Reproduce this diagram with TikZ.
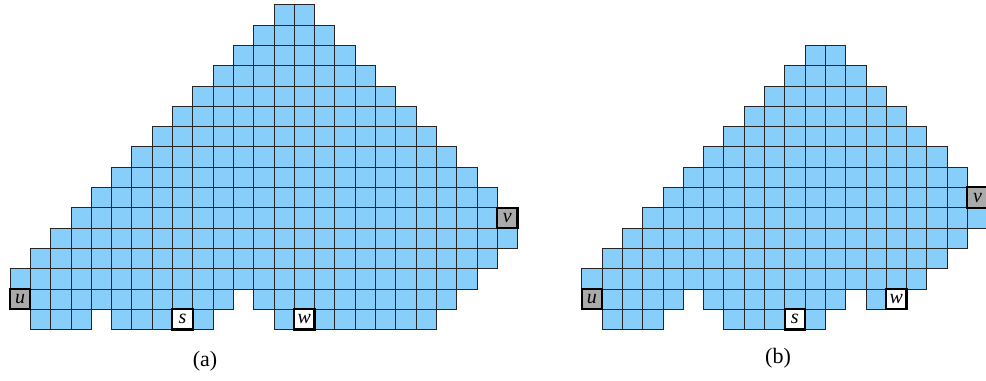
\documentclass[tikz,border=0pt]{standalone}
\usepackage{fontspec}
\setmainfont{Liberation Serif}
\definecolor{cellblue}{RGB}{135,206,250}
\definecolor{cellgray}{RGB}{170,170,170}
\begin{document}
\begin{tikzpicture}[x=0.75pt,y=-0.75pt,
  cellst/.style={fill=cellblue,draw=black!85,line width=0.55pt},
  markst/.style={draw=black,line width=1.6pt},
  lab/.style={font=\fontsize{15}{15}\selectfont\itshape,inner sep=0pt},
  captext/.style={font=\fontsize{16.5}{16.5}\selectfont,inner sep=0pt}]
\useasboundingbox (0,0) rectangle (986,380);
\def\S{20.3}
\def\Y{4.7}
\newcommand\cellrun[4]{%
  \foreach \c in {#3,...,#4} {\filldraw[cellst] ({#1+\c*\S},{\Y+#2*\S}) rectangle ++(\S,\S);}}
\newcommand\markcell[4]{% x0, col, row, fill
  \filldraw[markst,fill=#4] ({#1+#2*\S},{\Y+#3*\S}) rectangle ++(\S,\S);}
% ---------------- (a) ----------------
\def\XA{10}
\foreach \r in {0,...,10} {\pgfmathtruncatemacro\lo{13-\r}\pgfmathtruncatemacro\hi{14+\r}\cellrun{\XA}{\r}{\lo}{\hi}}
\cellrun{\XA}{11}{2}{24}
\cellrun{\XA}{12}{1}{23}
\cellrun{\XA}{13}{0}{22}
\cellrun{\XA}{14}{0}{10}\cellrun{\XA}{14}{12}{21}
\cellrun{\XA}{15}{1}{3}\cellrun{\XA}{15}{5}{9}\cellrun{\XA}{15}{13}{20}
\markcell{\XA}{0}{14}{cellgray}
\markcell{\XA}{24}{10}{cellgray}
\markcell{\XA}{8}{15}{white}
\markcell{\XA}{14}{15}{white}
\node[lab] (ua) at ({\XA+0.5*\S},{\Y+14.5*\S}) {u};
\node[lab] (va) at ({\XA+24.5*\S},{\Y+10.5*\S}) {v};
\node[lab] (sa) at ({\XA+8.5*\S},{\Y+15.5*\S}) {s};
\node[lab] (wa) at ({\XA+14.5*\S},{\Y+15.5*\S}) {w};
\node[captext] (capa) at (205,361) {(a)};
% ---------------- (b) ----------------
\def\XB{581.7}
\foreach \r in {2,...,9} {\pgfmathtruncatemacro\lo{13-\r}\pgfmathtruncatemacro\hi{10+\r}\cellrun{\XB}{\r}{\lo}{\hi}}
\cellrun{\XB}{10}{3}{19}
\cellrun{\XB}{11}{2}{18}
\cellrun{\XB}{12}{1}{17}
\cellrun{\XB}{13}{0}{16}
\cellrun{\XB}{14}{0}{4}\cellrun{\XB}{14}{6}{12}\cellrun{\XB}{14}{14}{15}
\cellrun{\XB}{15}{1}{3}\cellrun{\XB}{15}{7}{11}
\markcell{\XB}{0}{14}{cellgray}
\markcell{\XB}{19}{9}{cellgray}
\markcell{\XB}{10}{15}{white}
\markcell{\XB}{15}{14}{white}
\node[lab] (ub) at ({\XB+0.5*\S},{\Y+14.5*\S}) {u};
\node[lab] (vb) at ({\XB+19.5*\S},{\Y+9.5*\S}) {v};
\node[lab] (sb) at ({\XB+10.5*\S},{\Y+15.5*\S}) {s};
\node[lab] (wb) at ({\XB+15.5*\S},{\Y+14.5*\S}) {w};
\node[captext] (capb) at (778,358) {(b)};
\end{tikzpicture}
\end{document}
